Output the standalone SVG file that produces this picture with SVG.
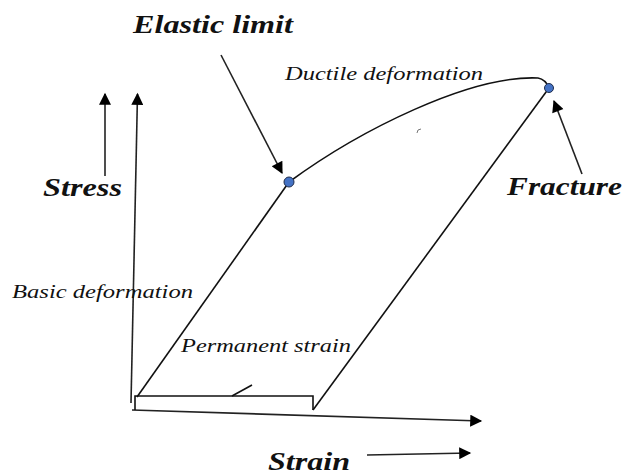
<svg xmlns="http://www.w3.org/2000/svg" width="627" height="476" viewBox="0 0 627 476">
<defs>
<marker id="ahb" viewBox="0 0 10 10" refX="9" refY="5" markerWidth="14" markerHeight="12" markerUnits="userSpaceOnUse" orient="auto">
<path d="M0,0 L10,5 L0,10 Z" fill="#000"/>
</marker>
</defs>
<style>
.ln{fill:none;stroke:#111;stroke-width:1.6}
.ar{fill:none;stroke:#222;stroke-width:1.6;marker-end:url(#ahb)}
.big{font-family:"Liberation Serif",serif;font-style:italic;font-weight:bold;font-size:26px;fill:#111}
.sm{font-family:"Liberation Serif",serif;font-style:italic;font-size:19px;fill:#111}
.pt{fill:#4472C4;stroke:#1f2d4d;stroke-width:1}
</style>
<rect width="627" height="476" fill="#fff"/>
<g id="connectors">
<path class="ar" d="M105,176 L105,94"/>
<path class="ar" d="M131,403 L137.5,94"/>
<path class="ar" d="M132,410 L481,421"/>
<path class="ar" d="M367,455 L470,453"/>
<path class="ar" d="M221,55 L282,173"/>
<path class="ar" d="M582,174 L554,101"/>
<path class="ln" d="M137,397 L289,182"/>
<path class="ln" d="M289,182 C360,130 470,75 538,78 C544,79 547,83 549,88"/>
<path class="ln" d="M549,88 L313,410"/>
<path class="ln" d="M135,410 L135,396 L313,396 L313,410"/>
<path class="ln" d="M232,396 L252,385" stroke-width="1"/>
<path d="M417,133 L418,130 L421,129" fill="none" stroke="#777" stroke-width="1"/>
</g>
<g id="elastic-point"><circle class="pt" cx="289" cy="182" r="5"/></g>
<g id="fracture-point"><circle class="pt" cx="549" cy="88" r="4.5"/></g>
<g id="labels">
<text class="big" x="133" y="33" textLength="160" lengthAdjust="spacingAndGlyphs">Elastic limit</text>
<text class="sm" x="285" y="80" textLength="198" lengthAdjust="spacingAndGlyphs">Ductile deformation</text>
<text class="big" x="43" y="196" textLength="79" lengthAdjust="spacingAndGlyphs">Stress</text>
<text class="big" x="507" y="195" textLength="115" lengthAdjust="spacingAndGlyphs">Fracture</text>
<text class="sm" x="12" y="298" textLength="181" lengthAdjust="spacingAndGlyphs">Basic deformation</text>
<text class="sm" x="181" y="352" textLength="170" lengthAdjust="spacingAndGlyphs">Permanent strain</text>
<text class="big" x="268" y="470" textLength="82" lengthAdjust="spacingAndGlyphs">Strain</text>
</g>
</svg>
